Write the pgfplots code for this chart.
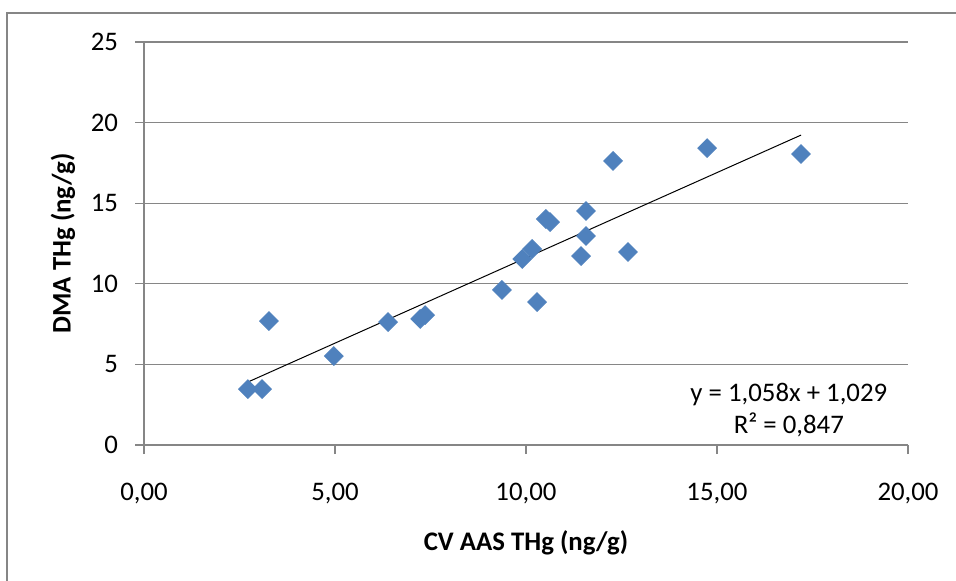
\documentclass[border=0pt]{standalone}
\usepackage{fontspec}
\setmainfont{Carlito}
\usepackage{pgfplots}
\pgfplotsset{compat=1.18}
\definecolor{mk}{HTML}{4F81BD}
\definecolor{gr}{HTML}{868686}
\begin{document}
\begin{tikzpicture}
\useasboundingbox (0,0) rectangle (478pt,-290pt);
\clip (0,0) rectangle (478pt,-290pt);
\fill[white] (0,0) rectangle (478pt,-290pt);
\draw[gr, line width=1pt] (3.5pt,-6.5pt) rectangle (520pt,-320pt);
\begin{axis}[
 at={(72pt,-222.5pt)}, anchor=south west,
 scale only axis, width=382pt, height=201.5pt,
 xmin=0,xmax=20,ymin=0,ymax=25,
 axis lines*=left,
 axis line style={gr, line width=0.6pt},
 xtick={0,5,10,15,20}, xticklabels={{0,00},{5,00},{10,00},{15,00},{20,00}},
 ytick={0,5,...,25},
 tick align=outside, major tick length=4.5pt,
 tick style={gr, line width=0.6pt},
 ymajorgrids, grid style={gr, line width=0.6pt},
 ticklabel style={font=\fontsize{13.4}{16}\selectfont, text=black},
 xticklabel style={yshift=-11pt},
 yticklabel style={xshift=-5pt},
 /pgf/number format/assume math mode=true,
 xlabel={CV AAS THg (ng/g)}, ylabel={DMA THg (ng/g)},
 label style={font=\bfseries\fontsize{13.4}{16}\selectfont},
 xlabel style={at={(axis description cs:0.5,-0.243)}, anchor=center},
 ylabel style={at={(axis description cs:-0.106,0.5)}, anchor=center},
 clip=false,
]
\addplot[only marks, mark=square*, mark size=3.3pt, mark options={rotate=45, fill=mk, draw=mk}] coordinates {
(2.72,3.47) (3.09,3.47) (3.27,7.69) (4.97,5.52) (6.39,7.63) (7.23,7.82) (7.36,8.06)
(9.37,9.62) (9.90,11.54) (10.16,12.16) (10.29,8.87) (10.52,14.02) (10.63,13.83)
(11.44,11.72) (11.57,12.97) (11.57,14.52) (12.28,17.62) (12.67,11.97) (14.74,18.42) (17.20,18.05)
};
\addplot[black, line width=0.5pt] coordinates {(2.72,3.907) (17.20,19.227)};
\node[font=\fontsize{13.4}{16}\selectfont, anchor=center] at (axis cs:16.88,3.16) {y = 1,058x + 1,029};
\node[font=\fontsize{13.4}{16}\selectfont, anchor=center] at (axis cs:16.88,1.24) {R² = 0,847};
\end{axis}
\end{tikzpicture}
\end{document}
